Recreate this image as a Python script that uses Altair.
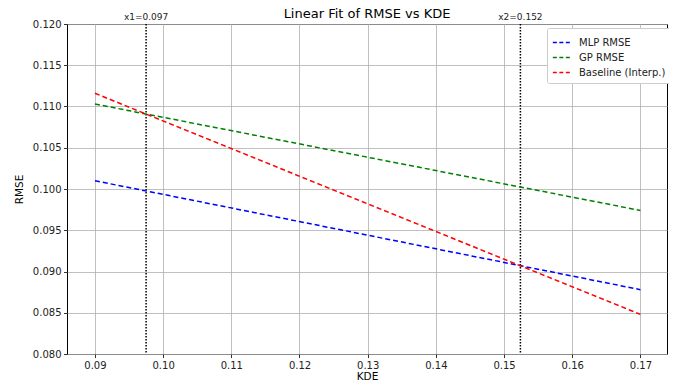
import altair as alt
import pandas as pd

kde = [0.09, 0.17]
mlp_rmse = [0.1010, 0.0878]
gp_rmse = [0.1103, 0.0974]
baseline = [0.1116, 0.0848]
series_names = ["MLP RMSE", "GP RMSE", "Baseline (Interp.)"]
series_colors = ["#0000ff", "#008000", "#ff0000"]
vline_x = [0.0975, 0.1524]
vline_labels = ["x1=0.097", "x2=0.152"]
x_ticks = [0.09, 0.10, 0.11, 0.12, 0.13, 0.14, 0.15, 0.16, 0.17]
y_ticks = [0.080, 0.085, 0.090, 0.095, 0.100, 0.105, 0.110, 0.115, 0.120]

rows = []
for name, vals in zip(series_names, [mlp_rmse, gp_rmse, baseline]):
    for k, v in zip(kde, vals):
        rows.append({"KDE": k, "RMSE": v, "series": name})
df = pd.DataFrame(rows)
vdf = pd.DataFrame({"x": vline_x, "label": vline_labels})

xscale = alt.Scale(domain=[0.0859, 0.1739], nice=False, zero=False)
yscale = alt.Scale(domain=[0.080, 0.120], nice=False, zero=False)

lines = alt.Chart(df).mark_line(strokeDash=[5, 3], strokeWidth=1.5).encode(
    x=alt.X("KDE:Q", scale=xscale,
            axis=alt.Axis(title="KDE", values=x_ticks, format=".2f")),
    y=alt.Y("RMSE:Q", scale=yscale,
            axis=alt.Axis(title="RMSE", values=y_ticks, format=".3f")),
    color=alt.Color("series:N",
                    scale=alt.Scale(domain=series_names, range=series_colors),
                    sort=series_names,
                    legend=alt.Legend(title=None, orient="none", legendX=480, legendY=4,
                                      symbolType="stroke", symbolDash=[4, 2.5],
                                      symbolStrokeWidth=1.5, symbolSize=300,
                                      labelFontSize=10, labelFont="DejaVu Sans",
                                      labelColor="#222222", labelOffset=8,
                                      fillColor="white", strokeColor="#cccccc",
                                      padding=5, rowPadding=0, cornerRadius=2)),
    detail="series:N",
)

rules = alt.Chart(vdf).mark_rule(color="black", strokeDash=[1.5, 1.5], strokeWidth=1.5).encode(
    x=alt.X("x:Q", scale=xscale),
)

labels = alt.Chart(vdf).mark_text(fontSize=9, font="DejaVu Sans", color="#222222",
                                  baseline="bottom", dy=0).encode(
    x=alt.X("x:Q", scale=xscale),
    y=alt.value(-2),
    text="label:N",
)

chart = alt.layer(rules, lines, labels).properties(
    width=600, height=330,
    title=alt.TitleParams("Linear Fit of RMSE vs KDE", fontSize=13, fontWeight="normal",
                          font="DejaVu Sans", offset=4, dy=12, color="black"),
    autosize=alt.AutoSizeParams(type="none"),
    padding={"left": 59, "top": 16, "right": 2, "bottom": 30},
).configure_view(
    stroke="black", strokeWidth=1
).configure_axis(
    grid=True, gridColor="#b0b0b0", gridWidth=0.8,
    domain=False, tickColor="black", tickSize=3.5, tickWidth=0.8,
    labelFont="DejaVu Sans", labelFontSize=10, labelColor="#222222",
    titleFont="DejaVu Sans", titleFontSize=10.5, titleFontWeight="normal", titleColor="black",
    labelPadding=2.5,
).configure_axisX(titlePadding=1).configure_axisY(titlePadding=8)

chart.save("out.html", embed_options={"renderer": "svg", "actions": False})
